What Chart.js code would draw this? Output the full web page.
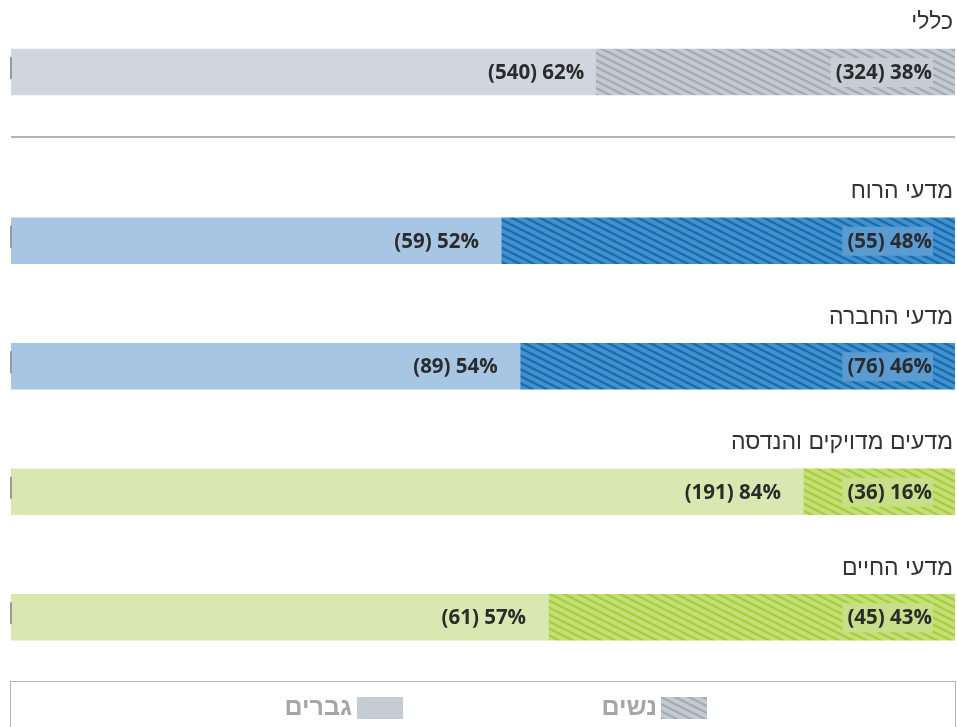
<!DOCTYPE html>
<html><head><meta charset="utf-8">
<script src="https://cdn.jsdelivr.net/npm/chart.js@4/dist/chart.umd.min.js"></script>
<style>
body{margin:0;background:#fff;width:957px;height:727px;overflow:hidden;position:relative;font-family:"Liberation Sans","DejaVu Sans",sans-serif}
#c1{position:absolute;left:0;top:0}
#c2{position:absolute;left:0;top:137px}
#sep{position:absolute;left:11px;top:136px;width:944px;height:2px;background:#b5b5b5}
#legend{position:absolute;left:10px;top:681px;width:946px;height:60px;border:1px solid #b3b3b3;box-sizing:border-box}
.lt{position:absolute;font:bold 25px "Liberation Sans","DejaVu Sans",sans-serif;color:#a3a7ab;top:10px;direction:rtl;text-align:right}
.sw{position:absolute;top:15px}
</style>
</head><body>
<canvas id="c1" width="957" height="137"></canvas>
<div id="sep"></div>
<canvas id="c2" width="957" height="543"></canvas>
<div id="legend">
  <canvas class="sw" id="swW" width="46" height="22" style="left:650px"></canvas>
  <div class="lt" id="ltW" style="right:298px"></div>
  <canvas class="sw" id="swM" width="46" height="22" style="left:346px;background:#c5ccd3"></canvas>
  <div class="lt" id="ltM" style="right:603px"></div>
</div>
<script>
// ---- data ----
const categories = ['כללי', 'מדעי הרוח', 'מדעי החברה', 'מדעים מדויקים והנדסה', 'מדעי החיים'];
const womenPct = [38, 48, 46, 16, 43];
const menPct = [62, 52, 54, 84, 57];
const womenCount = [324, 55, 76, 36, 45];
const menCount = [540, 59, 89, 191, 61];
const seriesNames = ['נשים', 'גברים'];

// ---- styles ----
const palette = {
  grey:  {base:'#c3cad1', stripe:'#a3aab2', men:'#cfd6dd', box:'#c6cdd4'},
  blue:  {base:'#4390cb', stripe:'#146cb0', men:'#a7c6e3', box:'#5a9bd2'},
  green: {base:'#c4df78', stripe:'#a6ce3a', men:'#d9e8b1', box:'#c6df88'}
};
const catStyle = ['grey','blue','blue','green','green'];

function makePattern(base, stripe) {
  const c = document.createElement('canvas'); c.width = 14; c.height = 7;
  const g = c.getContext('2d');
  g.fillStyle = base; g.fillRect(0,0,14,7);
  g.strokeStyle = stripe; g.lineWidth = 2.1;
  for (const dy of [-7,0,7]) { g.beginPath(); g.moveTo(-2, dy-1); g.lineTo(16, dy+8); g.stroke(); }
  return g.createPattern(c, 'repeat');
}

const labelPlugin = {
  id:'barLabels',
  afterDatasetsDraw(chart, args, opts) {
    const ctx = chart.ctx;
    const off = opts.offset;
    const wMeta = chart.getDatasetMeta(0), mMeta = chart.getDatasetMeta(1);
    ctx.save();
    wMeta.data.forEach((bar, i) => {
      const gi = i + off;
      const st = palette[catStyle[gi]];
      const top = bar.y - bar.height/2;
      // category title
      ctx.font = '23px "Liberation Sans","DejaVu Sans",sans-serif';
      ctx.fillStyle = '#333';
      ctx.textAlign = 'right'; ctx.textBaseline = 'middle';
      ctx.direction = 'rtl';
      ctx.fillText(categories[gi], chart.chartArea.right - 2, top - 26);
      ctx.direction = 'ltr';
      // left tick
      ctx.fillStyle = '#9a9a9a';
      ctx.fillRect(chart.chartArea.left - 1, top + 8, 2, 22);
      // women label with box
      ctx.font = 'bold 20.5px "Open Sans","DejaVu Sans",sans-serif';
      const wt = '(' + womenCount[gi] + ') ' + womenPct[gi] + '%';
      const tw = ctx.measureText(wt).width;
      const right = bar.base - 23;
      ctx.fillStyle = st.box;
      ctx.fillRect(right - tw - 5, top + 9, tw + 6, 29);
      ctx.fillStyle = '#2b2b2b';
      ctx.textAlign = 'right';
      ctx.fillText(wt, right, bar.y + 1);
      // men label
      const mb = mMeta.data[i];
      const mt = '(' + menCount[gi] + ') ' + menPct[gi] + '%';
      ctx.fillText(mt, mb.base - opts.menGap, bar.y + 1);
    });
    ctx.restore();
  }
};

function buildChart(id, from, to, padTop, padBottom, menGap) {
  const idx = [];
  for (let i = from; i < to; i++) idx.push(i);
  return new Chart(document.getElementById(id), {
    type: 'bar',
    data: {
      labels: idx.map(i => categories[i]),
      datasets: [
        {label: seriesNames[0], data: idx.map(i => womenPct[i]),
         backgroundColor: idx.map(i => makePattern(palette[catStyle[i]].base, palette[catStyle[i]].stripe))},
        {label: seriesNames[1], data: idx.map(i => menPct[i]),
         backgroundColor: idx.map(i => palette[catStyle[i]].men)}
      ]
    },
    options: {
      indexAxis: 'y', responsive: false, animation: false, events: [],
      layout: {padding: {left: 11, right: 2, top: padTop, bottom: padBottom}},
      datasets: {bar: {barThickness: 46, borderWidth: 0}},
      scales: {
        x: {stacked: true, min: 0, max: 100, reverse: true, display: false},
        y: {stacked: true, display: false}
      },
      plugins: {legend: {display: false}, tooltip: {enabled: false}, barLabels: {offset: from, menGap: menGap}}
    },
    plugins: [labelPlugin]
  });
}

buildChart('c1', 0, 1, 30, 23, 12);
buildChart('c2', 1, 5, 41, 0, 23);

// legend
document.getElementById('ltW').textContent = seriesNames[0];
document.getElementById('ltM').textContent = seriesNames[1];
const sw = document.getElementById('swW').getContext('2d');
sw.fillStyle = makePattern(palette.grey.base, palette.grey.stripe);
sw.fillRect(0,0,46,22);
</script>
</body></html>
